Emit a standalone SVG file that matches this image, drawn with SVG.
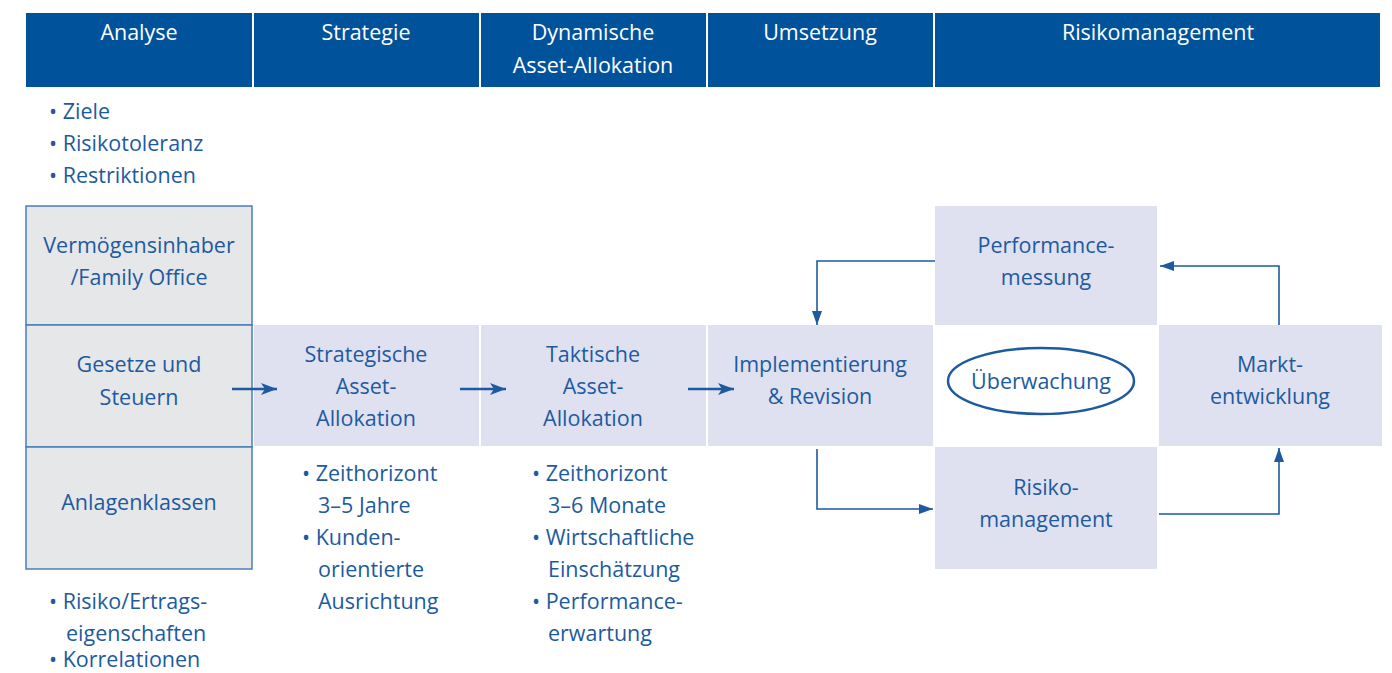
<svg xmlns="http://www.w3.org/2000/svg" width="1392" height="673" viewBox="0 0 1392 673">
<defs>
<style>
text{font-family:"Open Sans","Lato","Liberation Sans",sans-serif;font-size:21.5px;fill:#1d5aa0}
.h{fill:#00529b}
.ht{fill:#ffffff;text-anchor:middle}
.c{text-anchor:middle}
.g{fill:#e6e7e9;stroke:#4a7fba;stroke-width:1.5}
.l{fill:#dfe1f0}
.conn{fill:none;stroke:#1d5aa0;stroke-width:1.6}
.main{fill:none;stroke:#1d5aa0;stroke-width:2.6}
</style>
<marker id="ah" viewBox="0 0 14 10" refX="14" refY="5" markerWidth="14" markerHeight="10" markerUnits="userSpaceOnUse" orient="auto">
<path d="M0,0 L14,5 L0,10 z" fill="#1d5aa0"/>
</marker>
<marker id="ah2" viewBox="0 0 16 12" refX="16" refY="6" markerWidth="16" markerHeight="12" markerUnits="userSpaceOnUse" orient="auto">
<path d="M0,0 L16,6 L0,12 L4,6 z" fill="#1d5aa0"/>
</marker>
</defs>
<rect width="1392" height="673" fill="#ffffff"/>

<g id="header">
<rect class="h" x="26" y="13" width="226" height="74"/>
<rect class="h" x="254" y="13" width="225" height="74"/>
<rect class="h" x="481" y="13" width="225" height="74"/>
<rect class="h" x="708" y="13" width="225" height="74"/>
<rect class="h" x="935" y="13" width="445" height="74"/>
<text class="ht" x="139" y="40">Analyse</text>
<text class="ht" x="366" y="40">Strategie</text>
<text class="ht" x="593" y="40">Dynamische</text>
<text class="ht" x="593" y="73">Asset-Allokation</text>
<text class="ht" x="820" y="40">Umsetzung</text>
<text class="ht" x="1158" y="40">Risikomanagement</text>
</g>

<g id="analyse-bullets-top">
<text x="49" y="119">• Ziele</text>
<text x="49" y="151">• Risikotoleranz</text>
<text x="49" y="183">• Restriktionen</text>
</g>

<g id="vermoegensinhaber">
<rect class="g" x="26" y="206" width="226" height="119"/>
<text class="c" x="139" y="253">Vermögensinhaber</text>
<text class="c" x="139" y="285">/Family Office</text>
</g>
<g id="gesetze">
<rect class="g" x="26" y="325" width="226" height="122"/>
<text class="c" x="139" y="372">Gesetze und</text>
<text class="c" x="139" y="405">Steuern</text>
</g>
<g id="anlagenklassen">
<rect class="g" x="26" y="447" width="226" height="122"/>
<text class="c" x="139" y="510">Anlagenklassen</text>
</g>

<g id="strategische">
<rect class="l" x="254" y="325" width="225" height="121"/>
<text class="c" x="366" y="362">Strategische</text>
<text class="c" x="366" y="394">Asset-</text>
<text class="c" x="366" y="426">Allokation</text>
</g>
<g id="taktische">
<rect class="l" x="481" y="325" width="225" height="121"/>
<text class="c" x="593" y="362">Taktische</text>
<text class="c" x="593" y="394">Asset-</text>
<text class="c" x="593" y="426">Allokation</text>
</g>
<g id="implementierung">
<rect class="l" x="708" y="325" width="225" height="121"/>
<text class="c" x="820" y="372">Implementierung</text>
<text class="c" x="820" y="404">&amp; Revision</text>
</g>
<g id="performance">
<rect class="l" x="935" y="206" width="222" height="119"/>
<text class="c" x="1046" y="253">Performance-</text>
<text class="c" x="1046" y="285">messung</text>
</g>
<g id="ueberwachung">
<ellipse cx="1041" cy="381" rx="93" ry="33" fill="none" stroke="#1d5aa0" stroke-width="2.5"/>
<text class="c" x="1041" y="389">Überwachung</text>
</g>
<g id="markt">
<rect class="l" x="1159" y="325" width="223" height="121"/>
<text class="c" x="1270" y="372">Markt-</text>
<text class="c" x="1270" y="404">entwicklung</text>
</g>
<g id="risiko">
<rect class="l" x="935" y="447" width="222" height="122"/>
<text class="c" x="1046" y="495">Risiko-</text>
<text class="c" x="1046" y="527">management</text>
</g>

<g id="strategie-bullets">
<text x="302" y="481">• Zeithorizont</text>
<text x="318" y="513">3–5 Jahre</text>
<text x="302" y="545">• Kunden-</text>
<text x="318" y="577">orientierte</text>
<text x="318" y="609">Ausrichtung</text>
</g>
<g id="taktik-bullets">
<text x="532" y="481">• Zeithorizont</text>
<text x="548" y="513">3–6 Monate</text>
<text x="532" y="545">• Wirtschaftliche</text>
<text x="548" y="577">Einschätzung</text>
<text x="532" y="609">• Performance-</text>
<text x="548" y="641">erwartung</text>
</g>
<g id="analyse-bullets-bottom">
<text x="49" y="609">• Risiko/Ertrags-</text>
<text x="66" y="641">eigenschaften</text>
<text x="49" y="667">• Korrelationen</text>
</g>

<g id="connectors">
<line class="main" x1="232" y1="389" x2="277" y2="389" marker-end="url(#ah2)"/>
<line class="main" x1="460" y1="389" x2="506" y2="389" marker-end="url(#ah2)"/>
<line class="main" x1="688" y1="389" x2="734" y2="389" marker-end="url(#ah2)"/>
<polyline class="conn" points="935,261 817,261 817,325" marker-end="url(#ah)"/>
<polyline class="conn" points="1279,325 1279,266 1160,266" marker-end="url(#ah)"/>
<polyline class="conn" points="817,449 817,509 933,509" marker-end="url(#ah)"/>
<polyline class="conn" points="1159,514 1279,514 1279,448" marker-end="url(#ah)"/>
</g>
</svg>
